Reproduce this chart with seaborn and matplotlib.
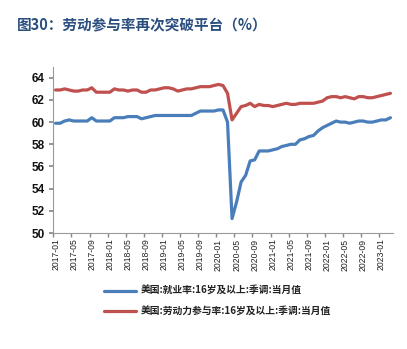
import matplotlib
matplotlib.use("Agg")
import matplotlib.pyplot as plt
import seaborn as sns
import pandas as pd
import numpy as np

months = pd.period_range("2017-01", "2023-03", freq="M").strftime("%Y-%m").tolist()

emp_ratio = [
    59.9, 59.9, 60.1, 60.2, 60.1, 60.1, 60.1, 60.1, 60.4, 60.1, 60.1, 60.1,
    60.1, 60.4, 60.4, 60.4, 60.5, 60.5, 60.5, 60.3, 60.4, 60.5, 60.6, 60.6,
    60.6, 60.6, 60.6, 60.6, 60.6, 60.6, 60.6, 60.8, 61.0, 61.0, 61.0, 61.0,
    61.1, 61.1, 60.0, 51.3, 52.8, 54.6, 55.2, 56.5, 56.6, 57.4, 57.4, 57.4,
    57.5, 57.6, 57.8, 57.9, 58.0, 58.0, 58.4, 58.5, 58.7, 58.8, 59.2, 59.5,
    59.7, 59.9, 60.1, 60.0, 60.0, 59.9, 60.0, 60.1, 60.1, 60.0, 60.0, 60.1,
    60.2, 60.2, 60.4,
]
lfpr = [
    62.9, 62.9, 63.0, 62.9, 62.8, 62.8, 62.9, 62.9, 63.1, 62.7, 62.7, 62.7,
    62.7, 63.0, 62.9, 62.9, 62.8, 62.9, 62.9, 62.7, 62.7, 62.9, 62.9, 63.0,
    63.1, 63.1, 63.0, 62.8, 62.9, 63.0, 63.0, 63.1, 63.2, 63.2, 63.2, 63.3,
    63.4, 63.3, 62.6, 60.2, 60.8, 61.4, 61.5, 61.7, 61.4, 61.6, 61.5, 61.5,
    61.4, 61.5, 61.6, 61.7, 61.6, 61.6, 61.7, 61.7, 61.7, 61.7, 61.8, 61.9,
    62.2, 62.3, 62.3, 62.2, 62.3, 62.2, 62.1, 62.3, 62.3, 62.2, 62.2, 62.3,
    62.4, 62.5, 62.6,
]
series_names = ["美国:就业率:16岁及以上:季调:当月值",
                "美国:劳动力参与率:16岁及以上:季调:当月值"]
title = "图30：劳动参与率再次突破平台（%）"
yticks = [50, 52, 54, 56, 58, 60, 62, 64]

df = pd.DataFrame({
    "idx": list(range(len(months))) * 2,
    "value": emp_ratio + lfpr,
    "series": [series_names[0]] * len(months) + [series_names[1]] * len(months),
})

sns.set_theme(style="white")
plt.rcParams['font.family'] = ['Noto Sans CJK SC', 'DejaVu Sans']

fig = plt.figure(figsize=(4.07, 3.49), dpi=100)
ax = fig.add_axes([53.3 / 407, 1 - 233 / 349, (392.7 - 53.3) / 407, (233 - 66.7) / 349])

sns.lineplot(data=df, x="idx", y="value", hue="series",
             palette=["#4a7ebb", "#c0504d"], linewidth=2.3, ax=ax,
             legend=False)

ax.set_xlim(-0.5, len(months) - 0.5)
ax.set_ylim(50, 65)
ax.set_yticks(yticks)
ax.set_yticklabels([str(v) for v in yticks], fontsize=8.5, fontweight="bold",
                   family=['Liberation Sans', 'DejaVu Sans'], color="#111111")
pos = list(range(0, len(months), 4))
ax.set_xticks(pos)
ax.set_xticklabels([months[i] for i in pos], rotation=90, fontsize=6.2,
                   family=['Liberation Sans', 'DejaVu Sans'], color="#222222")
ax.set_xticks([p - 0.5 for p in pos], minor=True)
ax.tick_params(axis="x", which="major", length=0, pad=4)
ax.tick_params(axis="x", which="minor", length=3, color="#888888", direction="out", bottom=True)
ax.tick_params(axis="y", which="major", length=3, color="#888888", direction="out", left=True, pad=3)
ax.set_xlabel("")
ax.set_ylabel("")
for s in ["top", "right"]:
    ax.spines[s].set_visible(False)
for s in ["left", "bottom"]:
    ax.spines[s].set_color("#999999")
    ax.spines[s].set_linewidth(0.8)

from matplotlib.lines import Line2D
handles = [Line2D([], [], color="#4a7ebb", lw=2.3), Line2D([], [], color="#c0504d", lw=2.3)]
leg = fig.legend(handles, series_names, loc="upper left",
                 bbox_to_anchor=(104 / 407, 1 - 286 / 349), frameon=False,
                 prop={'family': ['Noto Sans CJK SC', 'DejaVu Sans'], 'size': 7.0, 'weight': 'bold'},
                 handlelength=3.3, handletextpad=0.45, labelspacing=1.1, borderpad=0, borderaxespad=0)
for t in leg.get_texts():
    t.set_color("#222222")

fig.text(17 / 407, 1 - 25 / 349, title, fontsize=10.5, fontweight="bold",
         color="#2a4f7f", va="center", ha="left")

fig.savefig("out.png", dpi=100)
